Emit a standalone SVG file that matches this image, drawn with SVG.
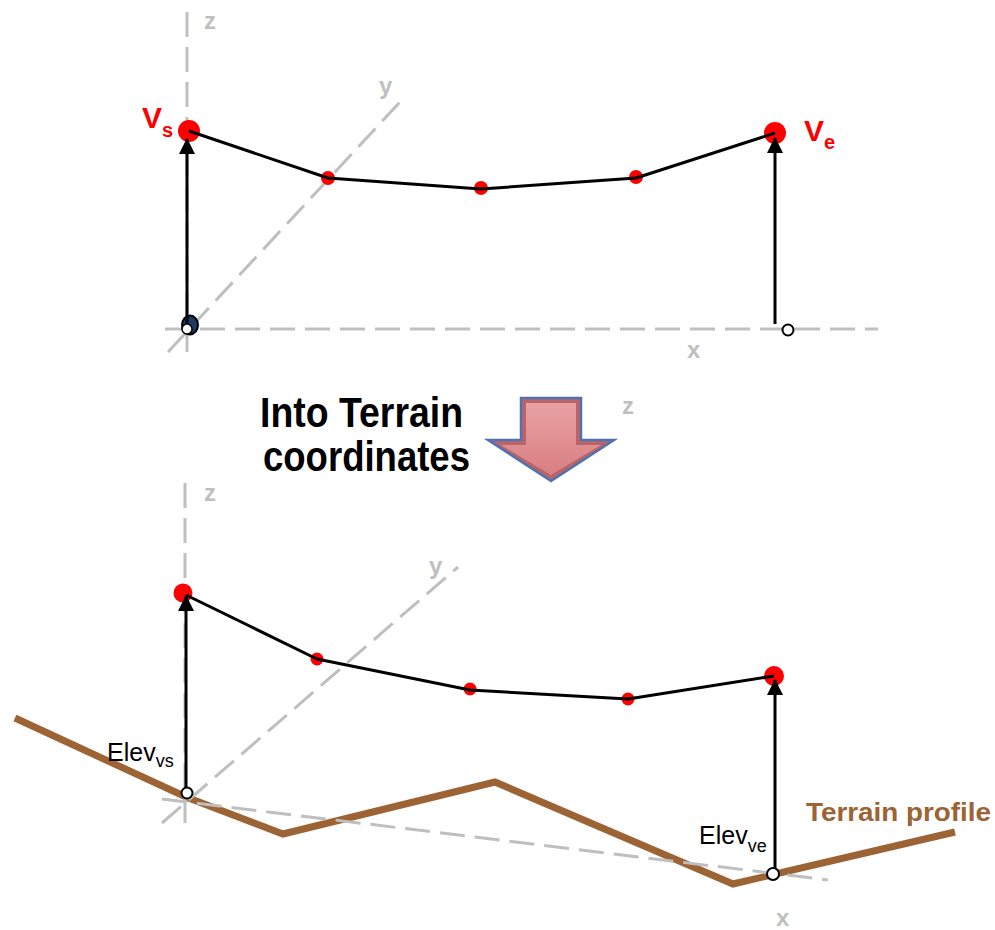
<svg xmlns="http://www.w3.org/2000/svg" width="995" height="930" viewBox="0 0 995 930">
<defs>
<style>
.axis{stroke:#bfbfbf;stroke-width:3;stroke-dasharray:25 10;fill:none}
.axlbl{fill:#bfbfbf;font-family:"Liberation Sans",Arial,sans-serif;font-weight:bold;font-size:24px}
.path{stroke:#000;stroke-width:3;fill:none;stroke-linejoin:round}
.dot{fill:#ff0000}
.vec{stroke:#000;stroke-width:3;fill:none}
.open{fill:#fff;stroke:#000;stroke-width:2}
.vlbl{fill:#ff0000;font-family:"Liberation Sans",Arial,sans-serif;font-weight:bold}
.elev{fill:#000;font-family:"Liberation Sans",Arial,sans-serif}
.terrain{stroke:#9c6334;stroke-width:7;fill:none;stroke-linejoin:miter}
</style>
<marker id="ah" markerUnits="userSpaceOnUse" markerWidth="16" markerHeight="16" viewBox="0 0 16 16" refX="15" refY="8" orient="auto">
<path d="M0,0 L16,8 L0,16 z" fill="#000"/>
</marker>
<linearGradient id="ag" x1="0" y1="0" x2="0" y2="1">
<stop offset="0" stop-color="#e9a1a3"/>
<stop offset="1" stop-color="#d97f82"/>
</linearGradient>
</defs>
<rect width="995" height="930" fill="#fff"/>

<!-- Top coordinate system -->
<g id="top-axes">
<line class="axis" x1="187" y1="12" x2="187" y2="355"/>
<line class="axis" x1="165" y1="329" x2="878" y2="329"/>
<line class="axis" x1="168" y1="352" x2="400" y2="102"/>
<text class="axlbl" x="204" y="29">z</text>
<text class="axlbl" x="379" y="94">y</text>
<text class="axlbl" x="687" y="358">x</text>
</g>

<g id="top-nodes">
<circle id="top-vs" class="dot" cx="189" cy="131" r="11"/>
<circle id="top-p1" class="dot" cx="328" cy="178" r="7"/>
<circle id="top-p2" class="dot" cx="481" cy="188" r="7"/>
<circle id="top-p3" class="dot" cx="636" cy="177" r="7"/>
<circle id="top-ve" class="dot" cx="775" cy="133" r="11"/>
<ellipse id="top-origin" cx="190" cy="325" rx="8" ry="9.5" fill="#203864" stroke="#000" stroke-width="2"/>
<circle id="top-origin-pt" cx="187" cy="329" r="5" fill="#fff" stroke="#000" stroke-width="1.5"/>
<circle id="top-end-pt" class="open" cx="788" cy="330" r="5.5"/>
</g>

<g id="top-connectors">
<polyline class="path" points="189,131 328,178 481,189 636,178 775,133"/>
<line class="vec" x1="187" y1="323" x2="187" y2="139" marker-end="url(#ah)"/>
<line class="vec" x1="775" y1="324" x2="775" y2="138" marker-end="url(#ah)"/>
</g>

<g id="top-labels">
<text class="vlbl" x="142" y="128" font-size="30">V<tspan font-size="20" dy="9">s</tspan></text>
<text class="vlbl" x="804" y="141" font-size="30">V<tspan font-size="20" dy="8">e</tspan></text>
</g>

<!-- Transition -->
<g id="transition">
<text x="260" y="427" font-family="'Liberation Sans',Arial,sans-serif" font-weight="bold" font-size="43" textLength="203" lengthAdjust="spacingAndGlyphs">Into Terrain</text>
<text x="263" y="471" font-family="'Liberation Sans',Arial,sans-serif" font-weight="bold" font-size="43" textLength="207" lengthAdjust="spacingAndGlyphs">coordinates</text>
<polygon points="521,398 581,398 581,440 614,440 551,481 488,440 521,440" fill="#b86468" stroke="#4f72b0" stroke-width="2.5" stroke-linejoin="miter"/>
<polygon points="526,403 576,403 576,445 601,445 551,475 501,445 526,445" fill="url(#ag)"/>
<text class="axlbl" x="622" y="414" font-size="17">z</text>
</g>

<!-- Bottom coordinate system -->
<g id="terrain-profile">
<polyline class="terrain" points="15,718 186,797 283,834 495,782 733,884 955,832"/>
<text x="806" y="821" fill="#9c6334" font-family="'Liberation Sans',Arial,sans-serif" font-weight="bold" font-size="26" textLength="185" lengthAdjust="spacingAndGlyphs">Terrain profile</text>
</g>

<g id="bottom-axes">
<line class="axis" x1="185" y1="483" x2="185" y2="823"/>
<line class="axis" x1="162" y1="823" x2="458" y2="567"/>
<line class="axis" x1="162" y1="799" x2="828" y2="880"/>
<text class="axlbl" x="204" y="501">z</text>
<text class="axlbl" x="429" y="574">y</text>
<text class="axlbl" x="776" y="926">x</text>
</g>

<g id="bottom-nodes">
<circle id="bot-vs" class="dot" cx="183" cy="593" r="9.5"/>
<circle id="bot-p1" class="dot" cx="317" cy="659" r="6.5"/>
<circle id="bot-p2" class="dot" cx="470" cy="689" r="6.5"/>
<circle id="bot-p3" class="dot" cx="628" cy="699" r="6.5"/>
<circle id="bot-ve" class="dot" cx="774" cy="676" r="10"/>
</g>

<g id="bottom-connectors">
<polyline class="path" points="186,595 317,659 470,690 628,699 774,676"/>
<line class="vec" x1="186" y1="790" x2="186" y2="596" marker-end="url(#ah)"/>
<line class="vec" x1="775" y1="870" x2="775" y2="680" marker-end="url(#ah)"/>
</g>

<g id="bottom-points">
<circle id="elev-vs-pt" class="open" cx="187" cy="793" r="5.5"/>
<circle id="elev-ve-pt" class="open" cx="773" cy="874" r="6"/>
</g>

<g id="bottom-labels">
<text class="elev" x="107" y="761" font-size="25">Elev<tspan font-size="18" dy="6">vs</tspan></text>
<text class="elev" x="699" y="844" font-size="25">Elev<tspan font-size="18" dy="8">ve</tspan></text>
</g>
</svg>
